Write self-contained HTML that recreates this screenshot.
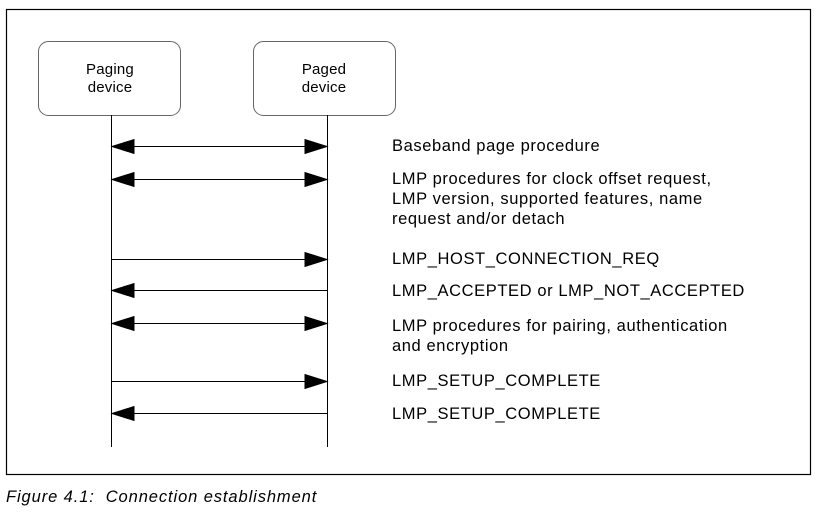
<!DOCTYPE html>
<html><head><style>body{margin:0;background:#fff;width:818px;height:509px;overflow:hidden}</style></head><body>
<svg width="818" height="509" xmlns="http://www.w3.org/2000/svg" font-family="Liberation Sans, sans-serif">
<rect x="6.5" y="9.5" width="804" height="465" fill="none" stroke="#000" stroke-width="1.2"/>
<rect x="38.5" y="41.5" width="142" height="74" rx="10" fill="#fff" stroke="#666"/>
<rect x="253.5" y="41.5" width="142" height="74" rx="10" fill="#fff" stroke="#666"/>
<g font-size="15" text-anchor="middle" fill="#000" letter-spacing="0.2">
<text x="110" y="74">Paging</text><text x="110" y="92">device</text>
<text x="324" y="74">Paged</text><text x="324" y="92">device</text>
</g>
<line x1="111.5" y1="115" x2="111.5" y2="447" stroke="#000"/>
<line x1="327.5" y1="115" x2="327.5" y2="447" stroke="#000"/>
<g stroke="#000" fill="#000">
<line x1="112" y1="146.5" x2="327" y2="146.5"/><path d="M112 146.5l22-7v14z"/><path d="M327 146.5l-22-7v14z"/>
<line x1="112" y1="179.5" x2="327" y2="179.5"/><path d="M112 179.5l22-7v14z"/><path d="M327 179.5l-22-7v14z"/>
<line x1="112" y1="259.5" x2="327" y2="259.5"/><path d="M327 259.5l-22-7v14z"/>
<line x1="112" y1="290.5" x2="327" y2="290.5"/><path d="M112 290.5l22-7v14z"/>
<line x1="112" y1="323.5" x2="327" y2="323.5"/><path d="M112 323.5l22-7v14z"/><path d="M327 323.5l-22-7v14z"/>
<line x1="112" y1="381.5" x2="327" y2="381.5"/><path d="M327 381.5l-22-7v14z"/>
<line x1="112" y1="413.5" x2="327" y2="413.5"/><path d="M112 413.5l22-7v14z"/>
</g>
<g font-size="16.5" fill="#000" letter-spacing="0.6">
<text x="392" y="151">Baseband page procedure</text>
<text x="392" y="184">LMP procedures for clock offset request,</text>
<text x="392" y="204">LMP version, supported features, name</text>
<text x="392" y="224">request and/or detach</text>
<text x="392" y="264">LMP_HOST_CONNECTION_REQ</text>
<text x="392" y="296">LMP_ACCEPTED or LMP_NOT_ACCEPTED</text>
<text x="392" y="331">LMP procedures for pairing, authentication</text>
<text x="392" y="351">and encryption</text>
<text x="392" y="386">LMP_SETUP_COMPLETE</text>
<text x="392" y="419">LMP_SETUP_COMPLETE</text>
</g>
<text x="6" y="502" font-size="16.5" font-style="italic" fill="#000" letter-spacing="0.9">Figure 4.1:&#160; Connection establishment</text>
</svg>
</body></html>
